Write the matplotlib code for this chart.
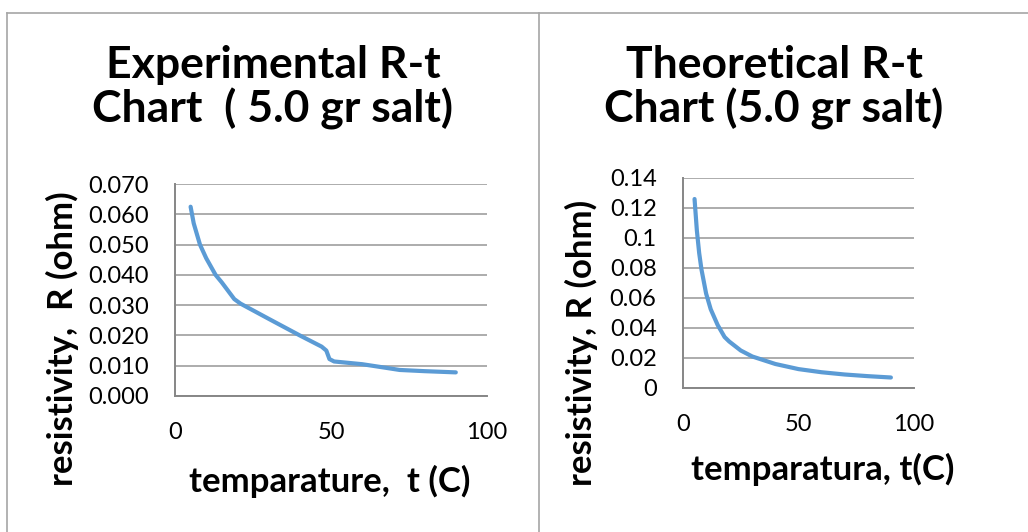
import matplotlib
matplotlib.use("Agg")
from matplotlib import pyplot as plt
from matplotlib.lines import Line2D

# values
t_exp = [5, 6, 8, 10, 13, 15, 19, 21, 30, 40, 47, 48.5, 49.5, 51, 60, 67, 72, 80, 90]
r_exp = [0.0625, 0.057, 0.050, 0.0455, 0.040, 0.0375, 0.032, 0.0305, 0.0255,
         0.020, 0.0163, 0.015, 0.0122, 0.0114, 0.0105, 0.0094, 0.0086, 0.0082, 0.0078]

t_th = [5, 6, 7, 8, 10, 12, 15, 18, 20, 25, 30, 40, 50, 60, 70, 80, 90]
r_th = [0.126, 0.105, 0.09, 0.079, 0.063, 0.0525, 0.042, 0.034, 0.031, 0.025,
        0.021, 0.016, 0.0126, 0.0105, 0.009, 0.0079, 0.007]

exp_yticks = [0.0, 0.01, 0.02, 0.03, 0.04, 0.05, 0.06, 0.07]
exp_ylabels = ["0.000", "0.010", "0.020", "0.030", "0.040", "0.050", "0.060", "0.070"]
th_yticks = [0, 0.02, 0.04, 0.06, 0.08, 0.1, 0.12, 0.14]
th_ylabels = ["0", "0.02", "0.04", "0.06", "0.08", "0.1", "0.12", "0.14"]
xticks = [0, 50, 100]

W, H = 1028, 532
FONT = "Lato"
LINE_C = "#5B9BD5"
GRID_C = "#969696"

fig = plt.figure(figsize=(W / 100, H / 100), dpi=100)
fig.patch.set_facecolor("white")


def px_axes(x0, y0, x1, y1):
    return fig.add_axes([x0 / W, 1 - y1 / H, (x1 - x0) / W, (y1 - y0) / H])


def px_text(x, y, s, va="baseline", **kw):
    fig.text(x / W, 1 - y / H, s, family=FONT, ha="center", va=va, **kw)


def style(ax, yticks, ylabels, ymax):
    ax.set_xlim(0, 100)
    ax.set_ylim(0, ymax)
    ax.set_xticks(xticks)
    ax.set_xticklabels([str(v) for v in xticks], family=FONT, fontsize=17)
    ax.set_yticks(yticks)
    ax.set_yticklabels(ylabels, family=FONT, fontsize=17)
    ax.tick_params(length=0)
    ax.tick_params(axis="y", pad=19)
    ax.tick_params(axis="x", pad=19)
    ax.grid(axis="y", color=GRID_C, linewidth=1.1)
    ax.set_axisbelow(True)
    for s in ("top", "right"):
        ax.spines[s].set_visible(False)
    for s in ("left", "bottom"):
        ax.spines[s].set_color("#868686")
        ax.spines[s].set_linewidth(1.4)


ax1 = px_axes(175, 184, 487, 396)
ax1.plot(t_exp, r_exp, color=LINE_C, lw=3.0, solid_capstyle="round")
style(ax1, exp_yticks, exp_ylabels, 0.07)

ax2 = px_axes(683, 178, 914, 388)
ax2.plot(t_th, r_th, color=LINE_C, lw=3.0, solid_capstyle="round")
style(ax2, th_yticks, th_ylabels, 0.14)

# titles and axis labels
px_text(273, 78, "Experimental R-t", fontsize=32, fontweight="bold")
px_text(273, 123, "Chart  ( 5.0 gr salt)", fontsize=32, fontweight="bold")
px_text(774, 78, "Theoretical R-t", fontsize=32, fontweight="bold")
px_text(774, 123, "Chart (5.0 gr salt)", fontsize=32, fontweight="bold")

px_text(330, 492, "temparature,  t (C)", fontsize=25, fontweight="bold")
px_text(823, 480, "temparatura, t(C)", fontsize=25, fontweight="bold")
px_text(62, 339, "resistivity,  R (ohm)", va="center", fontsize=25,
        fontweight="bold", rotation=90)
px_text(581, 343, "resistivity, R (ohm)", va="center", fontsize=25,
        fontweight="bold", rotation=90)

# outer border and divider
border = dict(color="#a6a6a6", linewidth=1.2, transform=fig.transFigure)
fig.add_artist(Line2D([7 / W, 7 / W], [0, 1 - 12.5 / H], **border))
fig.add_artist(Line2D([7 / W, 1], [1 - 12.5 / H, 1 - 12.5 / H], **border))
fig.add_artist(Line2D([539 / W, 539 / W], [0, 1 - 12.5 / H], **border))

fig.savefig("out.png", dpi=100)
